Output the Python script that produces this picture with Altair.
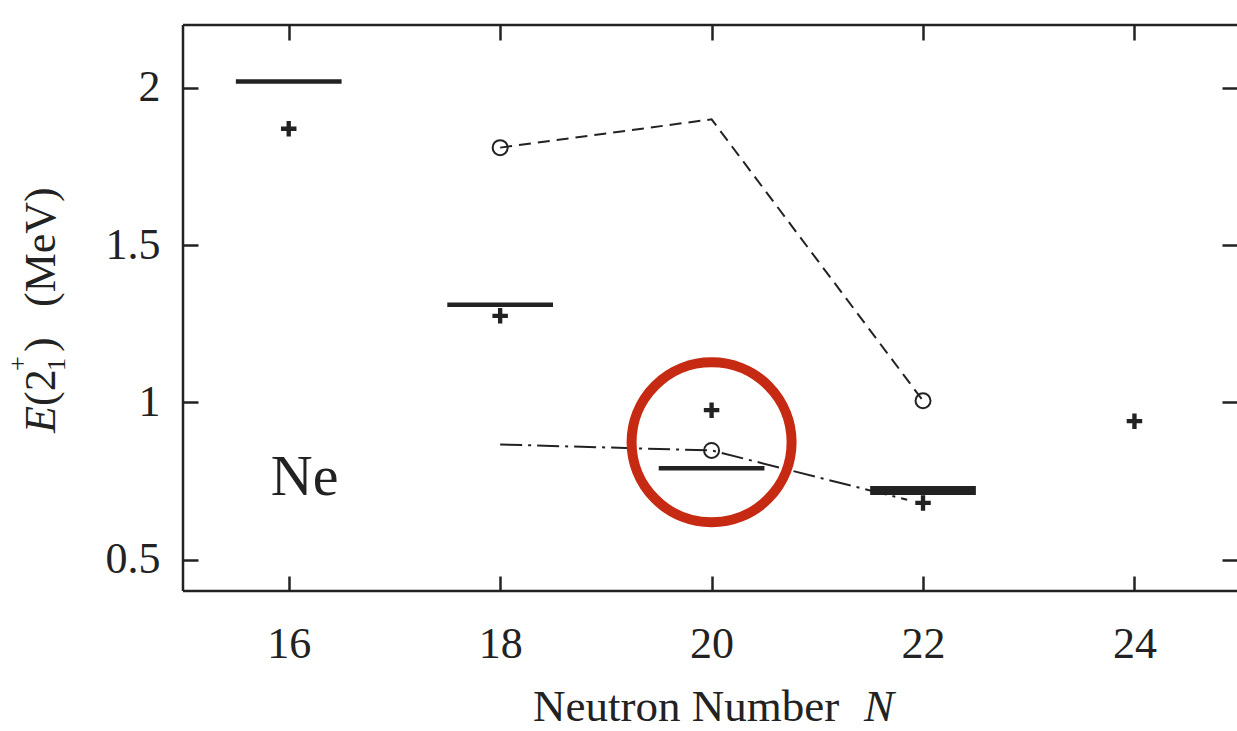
import altair as alt
import pandas as pd

# ---------------- data ----------------
N_bar = [16, 18, 20, 22]
E_bar = [2.02, 1.31, 0.79, 0.72]

N_cross = [16, 18, 20, 22, 24]
E_cross = [1.87, 1.275, 0.975, 0.68, 0.94]

N_dash = [18, 20, 22]
E_dash = [1.81, 1.90, 1.005]

N_dashdot = [18, 20, 21.85]
E_dashdot = [0.866, 0.847, 0.69]

N_circle = [18, 22, 20]
E_circle = [1.81, 1.005, 0.847]

N_highlight = [20]
E_highlight = [0.873]

N_label = [15.83]
E_label = [0.705]
label_text = ["Ne"]

x_ticks = [16, 18, 20, 22, 24]
y_ticks = [0.5, 1, 1.5, 2]
x_domain = [15, 24.97]
y_domain = [0.4, 2.2]

y_title_parts = ["E", "(2", "+", "1", ")", "(MeV)"]
x_title_parts = ["Neutron Number", "N"]

# ---------------- styling ----------------
INK = "#222222"
RED = "#c62a12"
SERIF = "'Liberation Serif', 'Times New Roman', Times, serif"
PLUS = "M-1,-0.28H-0.28V-1H0.28V-0.28H1V0.28H0.28V1H-0.28V0.28H-1Z"
W, H = 1054, 566

xs = alt.Scale(domain=x_domain, nice=False, zero=False)
ys = alt.Scale(domain=y_domain, nice=False, zero=False)

common_axis = dict(domain=False, grid=False, ticks=True, tickSize=15, tickWidth=2.5,
                   tickColor=INK, offset=-15, title=None)

bottom_axis = alt.Axis(orient="bottom", values=x_ticks, labelFont=SERIF, labelFontSize=44,
                       labelColor=INK, labelPadding=31, labelFlush=False, **common_axis)
left_axis = alt.Axis(orient="left", values=y_ticks, format="~g", labelFont=SERIF,
                     labelFontSize=44, labelColor=INK, labelPadding=23, labelFlush=False,
                     **common_axis)
top_axis = alt.Axis(orient="top", values=x_ticks, labels=False, **common_axis)
right_axis = alt.Axis(orient="right", values=y_ticks, labels=False, **common_axis)

df_bar = pd.DataFrame({"N": N_bar, "E": E_bar})
df_cross = pd.DataFrame({"N": N_cross, "E": E_cross})
df_dash = pd.DataFrame({"N": N_dash, "E": E_dash})
df_dd = pd.DataFrame({"N": N_dashdot, "E": E_dashdot})
df_circ = pd.DataFrame({"N": N_circle, "E": E_circle})
df_hl = pd.DataFrame({"N": N_highlight, "E": E_highlight})
df_lab = pd.DataFrame({"N": N_label, "E": E_label, "t": label_text})

bars = alt.Chart(df_bar).transform_calculate(
    x1="datum.N - 0.5", x2="datum.N + 0.5"
).mark_rule(color=INK, strokeCap="butt").encode(
    x=alt.X("x1:Q", scale=xs, axis=bottom_axis),
    x2="x2:Q",
    y=alt.Y("E:Q", scale=ys, axis=left_axis),
    strokeWidth=alt.condition("datum.N == 22", alt.value(9), alt.value(4.5)),
)

crosses = alt.Chart(df_cross).mark_point(
    shape=PLUS, filled=True, size=240, color=INK, opacity=1
).encode(
    x=alt.X("N:Q", scale=xs, axis=top_axis),
    y=alt.Y("E:Q", scale=ys, axis=right_axis),
)

dashed = alt.Chart(df_dash).mark_line(color=INK, strokeWidth=2, strokeDash=[12, 7]).encode(
    x=alt.X("N:Q", scale=xs, axis=None), y=alt.Y("E:Q", scale=ys, axis=None)
)
dashdot = alt.Chart(df_dd).mark_line(color=INK, strokeWidth=2, strokeDash=[22, 6, 3, 6]).encode(
    x=alt.X("N:Q", scale=xs, axis=None), y=alt.Y("E:Q", scale=ys, axis=None)
)
circles = alt.Chart(df_circ).mark_point(
    shape="circle", filled=False, size=225, color=INK, strokeWidth=2, opacity=1
).encode(x=alt.X("N:Q", scale=xs, axis=None), y=alt.Y("E:Q", scale=ys, axis=None))

highlight = alt.Chart(df_hl).mark_point(
    shape="circle", filled=False, size=25600, color=RED, strokeWidth=10, opacity=1
).encode(x=alt.X("N:Q", scale=xs, axis=None), y=alt.Y("E:Q", scale=ys, axis=None))

ne_label = alt.Chart(df_lab).mark_text(
    font=SERIF, fontSize=58, align="left", baseline="alphabetic", color=INK
).encode(x=alt.X("N:Q", scale=xs, axis=None), y=alt.Y("E:Q", scale=ys, axis=None), text="t:N")

# frame (left, top, bottom; right edge falls at the window border)
frame_left = alt.Chart(df_hl).mark_rule(color=INK, strokeWidth=2.5).encode(
    x=alt.value(0), y=alt.value(0), y2=alt.value(H))
frame_top = alt.Chart(df_hl).mark_rule(color=INK, strokeWidth=2.5).encode(
    x=alt.value(0), x2=alt.value(W), y=alt.value(0))
frame_bottom = alt.Chart(df_hl).mark_rule(color=INK, strokeWidth=2.5).encode(
    x=alt.value(0), x2=alt.value(W), y=alt.value(H))


def txt(s, px, py, size=44, style="normal", angle=0):
    kw = dict(font=SERIF, fontSize=size, fontStyle=style, align="left",
              baseline="alphabetic", color=INK)
    if angle:
        kw["angle"] = angle
    return alt.Chart(pd.DataFrame({"t": [s]})).mark_text(**kw).encode(
        x=alt.value(px), y=alt.value(py), text="t:N")


ytitle = [
    txt(y_title_parts[0], -128, 408, 44, "italic", 270),
    txt(y_title_parts[1], -128, 381, 44, "normal", 270),
    txt(y_title_parts[2], -157, 346, 26, "normal", 270),
    txt(y_title_parts[3], -118, 346, 26, "normal", 270),
    txt(y_title_parts[4], -128, 327, 44, "normal", 270),
    txt(y_title_parts[5], -128, 282, 44, "normal", 270),
]
xtitle = [
    txt(x_title_parts[0], 350, 696, 45),
    txt(x_title_parts[1], 681, 696, 45, "italic"),
]

chart = alt.layer(
    frame_left, frame_top, frame_bottom,
    bars, dashed, dashdot, circles, crosses, ne_label,
    *ytitle, *xtitle,
    highlight,
).resolve_axis(x="independent", y="independent").properties(
    width=W, height=H,
    autosize=alt.AutoSizeParams(type="none"),
    padding={"left": 183, "top": 25, "right": 0, "bottom": 140},
    background="white",
).configure_view(stroke=None)

chart.save("out.html", embed_options={"renderer": "svg", "actions": False})
